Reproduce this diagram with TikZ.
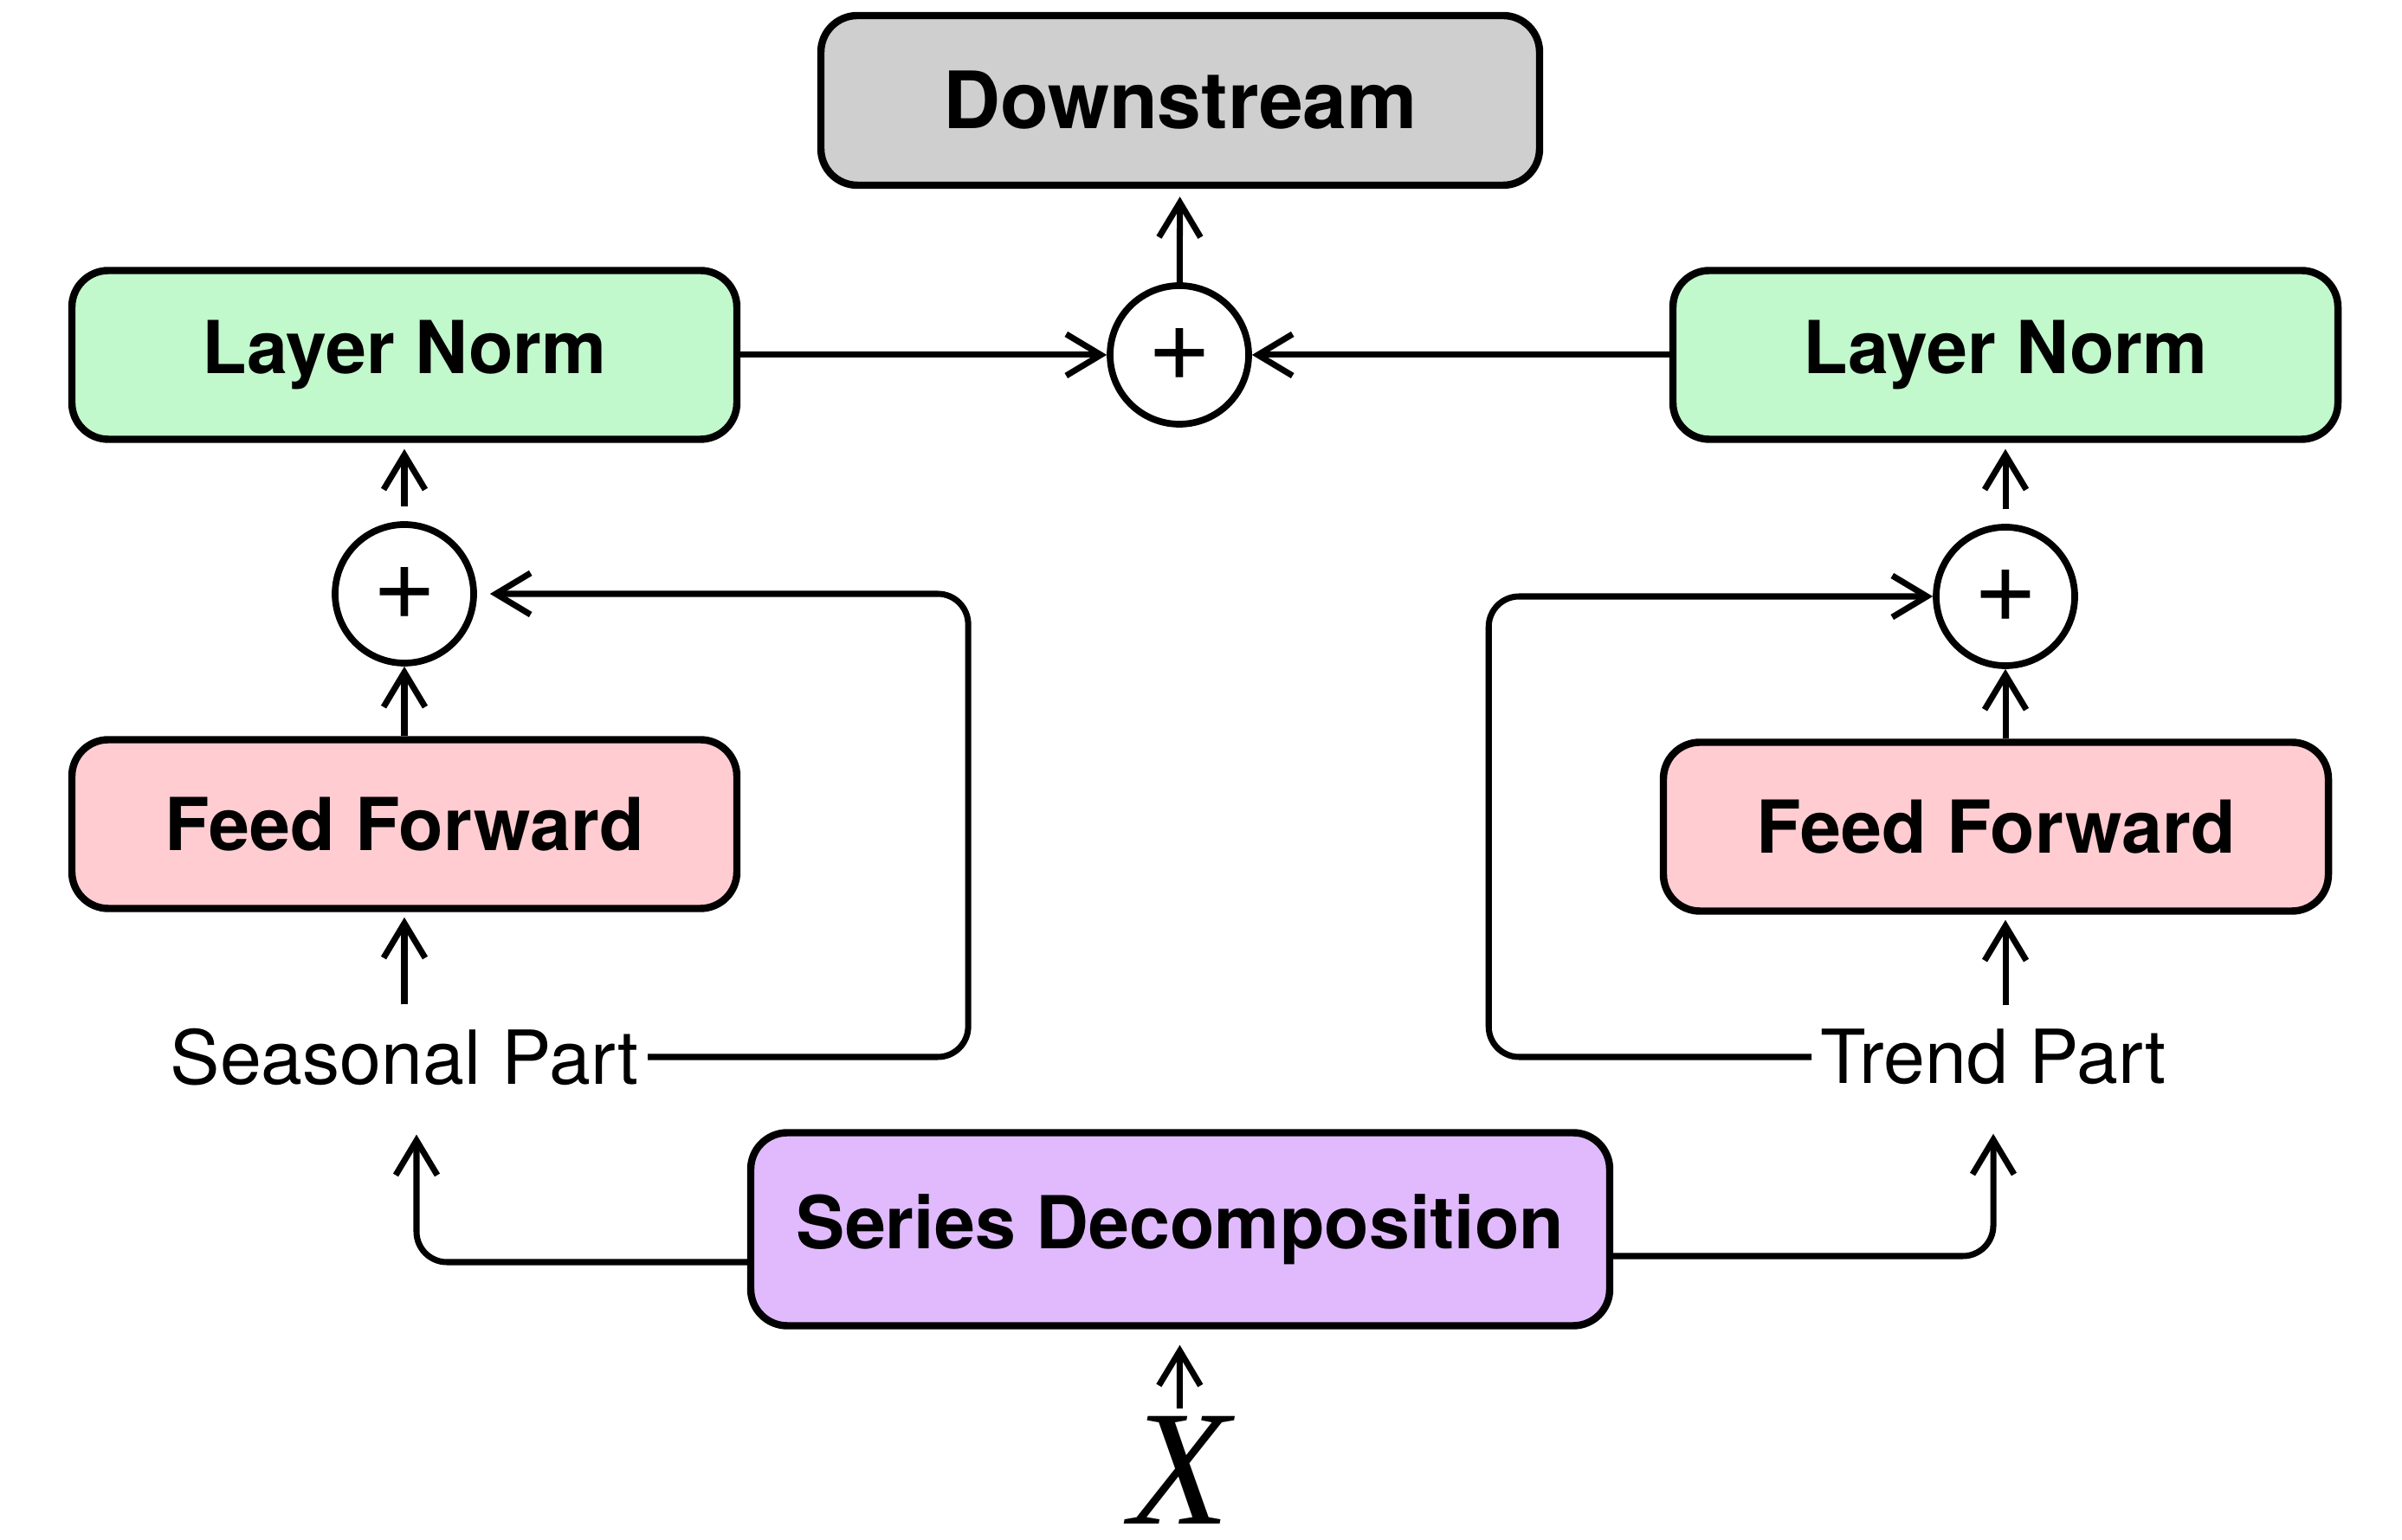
\documentclass[tikz,border=0pt]{standalone}
\usepackage{fontspec}
\setmainfont{TeX Gyre Heros}
\newfontfamily\xserif{Liberation Serif}
\usetikzlibrary{arrows.meta}
\definecolor{fog}{RGB}{207,207,207}
\definecolor{mint}{RGB}{193,248,204}
\definecolor{blush}{RGB}{255,204,209}
\definecolor{lilac}{RGB}{224,186,252}
\tikzset{
  >={Straight Barb[length=4mm,width=4.8mm]},
  block/.style={draw=black,fill=#1,rounded corners=12pt,line width=2.4pt,
    minimum height=19.5mm,minimum width=76.8mm,align=center,
    font=\fontsize{24}{28}\selectfont\bfseries},
  block/.default=mint,
  adder/.style={circle,draw=black,fill=white,line width=2.2pt,minimum size=16mm,
    inner sep=0pt,font=\fontsize{36}{38}\selectfont},
  flow/.style={->,line width=2pt,draw=black},
  wire/.style={->,line width=2pt,draw=black,rounded corners=10pt},
  tag/.style={inner xsep=1mm,inner ysep=2.7mm,font=\fontsize{24.5}{28}\selectfont},
}
\begin{document}
\begin{tikzpicture}
  \useasboundingbox (0,0) rectangle (27.74,17.78);
  % top
  \node[block=fog,minimum width=83mm,minimum height=19.6mm,
    font=\fontsize{26}{30}\selectfont\bfseries] (down) at (13.63,16.62) {Downstream};
  \node[adder] (topadd) at (13.62,13.68) {+};
  \node[block=mint] (lnL) at (4.67,13.68) {Layer Norm};
  \node[block=mint] (lnR) at (23.16,13.68) {Layer Norm};
  % two branches
  \node[adder] (addL) at (4.67,10.92) {+};
  \node[adder] (addR) at (23.16,10.89) {+};
  \node[block=blush] (ffL) at (4.67,8.26) {Feed Forward};
  \node[block=blush] (ffR) at (23.05,8.23) {Feed Forward};
  \node[tag] (seas) at (4.67,5.57) {Seasonal Part};
  \node[tag] (trend) at (23.02,5.57) {Trend Part};
  % input
  \node[block=lilac,minimum width=99.2mm,minimum height=22.3mm] (decomp) at (13.63,3.58) {Series Decomposition};
  \node[inner sep=0.8mm,font=\xserif\itshape\fontsize{54}{60}\selectfont] (xin) at (13.62,0.8) {X};

  \draw[flow,shorten >=1.8mm] (xin) -- (decomp);
  \draw[wire,shorten >=2.9mm] ([yshift=-3.8mm]decomp.west) -| ([xshift=1.4mm]seas.south);
  \draw[wire,shorten >=2.9mm] ([yshift=-3.1mm]decomp.east) -| (trend.south);
  \draw[flow,shorten >=0.6mm] (seas) -- (ffL);
  \draw[flow,shorten >=0.6mm] (trend.north -| addR) -- (ffR.south -| addR);
  \draw[flow] (ffL) -- (addL);
  \draw[flow] (ffR.north -| addR) -- (addR);
  \draw[wire,shorten >=1.5mm] (seas.east) -- ++(3.7,0) |- (addL.east);
  \draw[wire] (trend.west) -- ++(-3.73,0) |- (addR.west);
  \draw[flow,shorten <=1.7mm,shorten >=0.7mm] (addL) -- (lnL);
  \draw[flow,shorten <=1.7mm,shorten >=0.7mm] (addR) -- (lnR);
  \draw[flow] (lnL) -- (topadd);
  \draw[flow] (lnR) -- (topadd);
  \draw[flow,shorten >=0.9mm] (topadd) -- (down);
\end{tikzpicture}
\end{document}
